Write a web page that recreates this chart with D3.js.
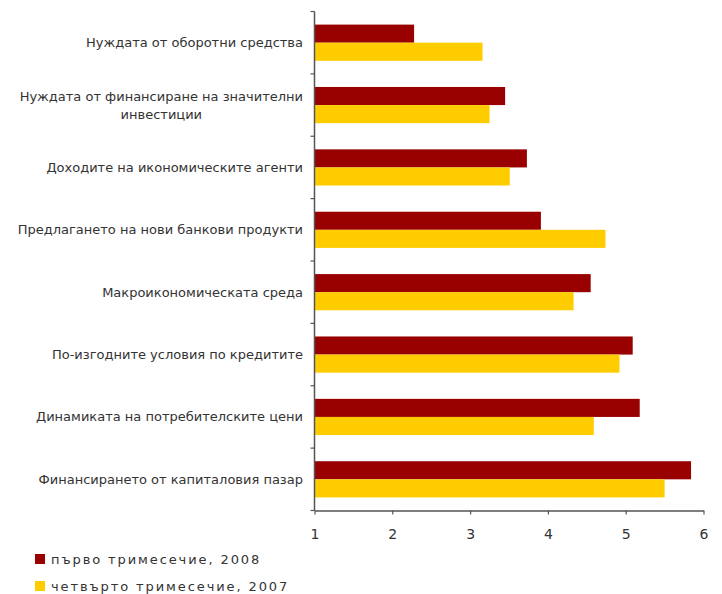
<!DOCTYPE html>
<html>
<head>
<meta charset="utf-8">
<script src="https://cdn.jsdelivr.net/npm/d3@7"></script>
<style>
  body { margin: 0; background: #fff; }
  svg { display: block; font-family: "DejaVu Sans", Verdana, sans-serif; }
</style>
</head>
<body>
<svg id="chart" width="722" height="594"></svg>
<script>
// Factors, listed top to bottom
const categories = [
  ["Нуждата от оборотни средства"],
  ["Нуждата от финансиране на значителни", "инвестиции"],
  ["Доходите на икономическите агенти"],
  ["Предлагането на нови банкови продукти"],
  ["Макроикономическата среда"],
  ["По-изгодните условия по кредитите"],
  ["Динамиката на потребителските цени"],
  ["Финансирането от капиталовия пазар"]
];
const seriesNames = ["първо тримесечие, 2008", "четвърто тримесечие, 2007"];
const q1_2008 = [2.28, 3.45, 3.73, 3.91, 4.55, 5.09, 5.18, 5.84];
const q4_2007 = [3.16, 3.25, 3.51, 4.74, 4.33, 4.92, 4.59, 5.50];
const xTicks = [1, 2, 3, 4, 5, 6];
const colors = ["#990000", "#FFCC00"];

const svg = d3.select("#chart");
const plotLeft = 314.5, plotRight = 703.5, plotTop = 11.5, plotBottom = 510.5;
const textColor = "#333";

const x = d3.scaleLinear().domain([1, 6]).range([plotLeft, plotRight]);
const y = d3.scaleBand().domain(d3.range(categories.length)).range([plotTop, plotBottom])
  .paddingInner(0.42).paddingOuter(0.21);
const sub = d3.scaleBand().domain([0, 1]).range([0, y.bandwidth()]);

const series = [q1_2008, q4_2007];
const g = svg.append("g");
series.forEach((vals, s) => {
  g.selectAll(null).data(vals).join("rect")
    .attr("x", x(1))
    .attr("y", (d, i) => y(i) + sub(s))
    .attr("width", d => x(d) - x(1))
    .attr("height", sub.bandwidth())
    .attr("fill", colors[s]);
});

// Category labels: right-aligned block, multi-line text centred within it
const step = (plotBottom - plotTop) / categories.length;
categories.forEach((lines, i) => {
  const cy = plotTop + step * (i + 0.5);
  const t = svg.append("text")
    .attr("font-size", 13)
    .attr("fill", textColor)
    .attr("text-anchor", "middle");
  const n = lines.length;
  lines.forEach((ln, k) => {
    t.append("tspan").attr("x", 0).attr("y", cy + 4.5 + (k - (n - 1) / 2) * 18).text(ln);
  });
  const w = t.node().getBBox().width;
  t.selectAll("tspan").attr("x", 303 - w / 2);
});

// Y axis line with ticks at category boundaries
const axisColor = "#555";
svg.append("line").attr("x1", plotLeft).attr("x2", plotLeft).attr("y1", plotTop).attr("y2", plotBottom)
  .attr("stroke", axisColor).attr("stroke-width", 1.5);
d3.range(categories.length + 1).forEach(i => {
  const yy = plotTop + step * i;
  svg.append("line").attr("x1", plotLeft - 4).attr("x2", plotLeft).attr("y1", yy).attr("y2", yy)
    .attr("stroke", axisColor).attr("stroke-width", 1.2);
});

// X axis
const xAxis = svg.append("g").attr("transform", `translate(0,${plotBottom})`)
  .call(d3.axisBottom(x).tickValues(xTicks).tickFormat(d3.format("d"))
    .tickSize(4).tickSizeOuter(0).tickPadding(15));
xAxis.select(".domain").attr("stroke", axisColor).attr("stroke-width", 1.5);
xAxis.selectAll(".tick line").attr("stroke", axisColor).attr("stroke-width", 1.2);
xAxis.selectAll(".tick text").attr("font-size", 14).attr("fill", textColor)
  .attr("font-family", "DejaVu Sans, Verdana, sans-serif");

// Legend
seriesNames.forEach((name, s) => {
  const ly = 554 + s * 27;
  svg.append("rect").attr("x", 35).attr("y", ly).attr("width", 10).attr("height", 10)
    .attr("fill", colors[s]);
  svg.append("text").attr("x", 51).attr("y", ly + 9.5)
    .attr("font-size", 13).attr("letter-spacing", 1.9).attr("fill", textColor).text(name);
});
</script>
</body>
</html>
